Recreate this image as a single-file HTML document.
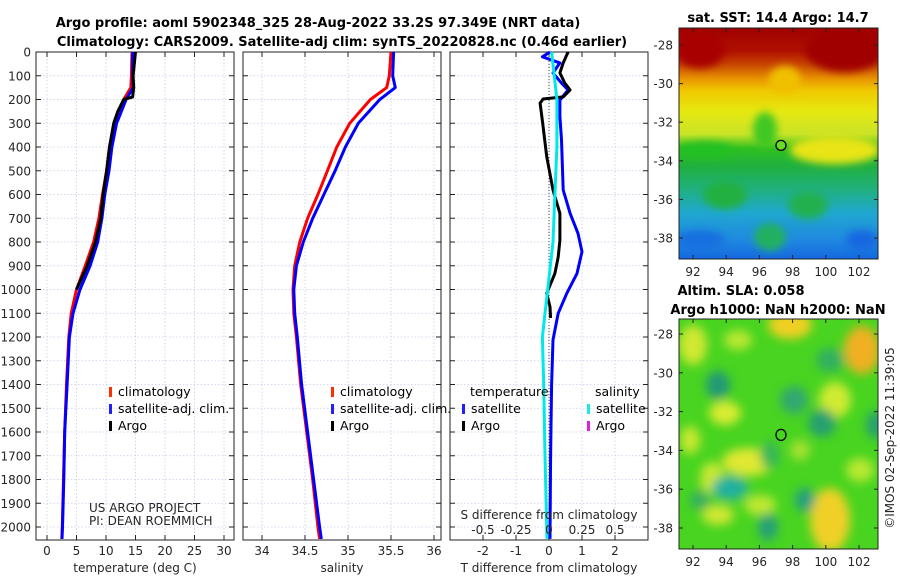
<!DOCTYPE html>
<html><head><meta charset="utf-8">
<style>
html,body{margin:0;padding:0;background:#fff;}
svg{display:block;font-family:"DejaVu Sans","Liberation Sans",sans-serif;}
.tk{font-size:12px;fill:#262626;}
.ttl{font-size:13px;font-weight:bold;fill:#000;}
.lg{font-size:12.5px;fill:#000;}
</style></head>
<body>
<svg id="chart" width="900" height="580" viewBox="0 0 900 580" xmlns="http://www.w3.org/2000/svg">
<defs>
 <linearGradient id="sstGrad" x1="0" y1="0" x2="0" y2="1">
  <stop offset="0" stop-color="#a00000"/>
  <stop offset="0.1" stop-color="#b01000"/>
  <stop offset="0.16" stop-color="#c84800"/>
  <stop offset="0.22" stop-color="#e89400"/>
  <stop offset="0.27" stop-color="#f0c800"/>
  <stop offset="0.36" stop-color="#e6e810"/>
  <stop offset="0.46" stop-color="#c8e428"/>
  <stop offset="0.52" stop-color="#30c020"/>
  <stop offset="0.6" stop-color="#20b040"/>
  <stop offset="0.7" stop-color="#20b080"/>
  <stop offset="0.8" stop-color="#20a8d0"/>
  <stop offset="0.92" stop-color="#2088e0"/>
  <stop offset="1" stop-color="#1468e0"/>
 </linearGradient>
 <filter id="blur6" x="-50%" y="-50%" width="200%" height="200%"><feGaussianBlur stdDeviation="5"/></filter>
 <filter id="blur4" x="-50%" y="-50%" width="200%" height="200%"><feGaussianBlur stdDeviation="4"/></filter>
 <clipPath id="clipMap1"><rect x="679" y="28" width="199" height="231"/></clipPath>
 <clipPath id="clipMap2"><rect x="679" y="319" width="199" height="230"/></clipPath>
</defs>
<g id="root"></g>
</svg>
<script>
// ---- data ----
const depthTicks = [0,100,200,300,400,500,600,700,800,900,1000,1100,1200,1300,1400,1500,1600,1700,1800,1900,2000];
const tempTicks = [0,5,10,15,20,25,30];
const salTicks = [34,34.5,35,35.5,36];
const salTickLabels = ["34","34.5","35","35.5","36"];
const tdiffTicks = [-2,-1,0,1,2];
const sdiffTicks = [-0.5,-0.25,0,0.25,0.5];
const sdiffTickLabels = ["-0.5","-0.25","0","0.25","0.5"];

const climDepth = [0,100,150,200,300,400,500,600,700,800,900,1000,1100,1200,1400,1600,1800,2000,2050];
const climTemp  = [14.4,14.3,14.2,13.0,11.4,10.6,10.1,9.4,8.8,7.9,6.5,5.0,4.1,3.7,3.3,3.0,2.8,2.6,2.5];
const satTemp   = [14.5,14.5,14.6,13.4,11.8,11.0,10.5,9.8,9.3,8.6,7.3,5.6,4.4,3.8,3.4,3.0,2.85,2.62,2.55];
const argoDepth = [0,50,100,150,190,200,250,300,400,500,600,700,800,900,1000];
const argoTemp  = [15.0,14.8,14.6,14.7,14.5,13.0,12.0,11.3,10.6,10.1,9.5,9.1,8.2,6.8,5.0];
const climSal   = [35.50,35.48,35.45,35.26,35.02,34.87,34.76,34.65,34.53,34.44,34.38,34.36,34.37,34.40,34.45,34.52,34.59,34.65,34.67];
const satSal    = [35.53,35.52,35.55,35.37,35.12,34.97,34.85,34.72,34.59,34.48,34.40,34.37,34.38,34.41,34.46,34.53,34.60,34.67,34.69];

const dTDepth   = [0,46,88,131,160,189,198,215,300,440,581,679,792,863,932,1016,1073,1120];
const argoTDiff = [0.58,0.43,0.33,0.48,0.64,0.43,-0.18,-0.27,-0.19,-0.07,0.12,0.33,0.33,0.28,0.18,-0.07,0.03,0.05];
const satDDepth = [0,20,46,88,131,160,202,272,370,581,679,764,841,932,1016,1100,1212,1400,1700,2050];
const satTDiff  = [0.03,-0.2,0.33,0.12,0.38,0.58,0.33,0.33,0.38,0.43,0.64,0.88,1.0,0.85,0.54,0.28,0.12,0.08,0.05,0.03];
const satSDepth = [0,200,400,600,800,1000,1100,1200,1400,1700,2050];
const satSDiff  = [0.02,0.06,0.06,0.045,0.03,-0.01,-0.03,-0.05,-0.04,-0.03,-0.015];

const lonTicks = [92,94,96,98,100,102];
const latTicks = [-28,-30,-32,-34,-36,-38];
const floatLon = 97.3, floatLat = -33.2;

// ---- scales ----
const Y0 = 52, YPX = 0.2375;
const yD = d => Y0 + d*YPX;
const P1 = {x:36,w:198}, P2 = {x:243,w:198}, P3 = {x:450,w:198};
const xT = v => 47 + v*5.9;
const xS = v => 262 + (v-34)*86;
const xTD = v => 549 + v*33;
const xSD = v => 549 + v*132;
const M1 = {x:679,y:28,w:199,h:231}, M2 = {x:679,y:319,w:199,h:230};
const lonX = v => 693 + (v-92)*16.6;
const lat1 = v => 45 + (-28 - v)*19.3;
const lat2 = v => 334 + (-28 - v)*19.4;

const NS = "http://www.w3.org/2000/svg";
const root = document.getElementById('root');
function el(tag, attrs, parent, txt){
  const e = document.createElementNS(NS, tag);
  for (const k in attrs) e.setAttribute(k, attrs[k]);
  if (txt !== undefined) e.textContent = txt;
  (parent||root).appendChild(e);
  return e;
}
function line(xs, ys, color, w, name, parent){
  const pts = xs.map((x,i)=>x.toFixed(1)+","+ys[i].toFixed(1)).join(" ");
  const p = el('polyline',{points:pts,fill:'none',stroke:color,'stroke-width':w,'stroke-linejoin':'round'},parent);
  
  
  return p;
}

// ---- titles ----
let t = el('text',{x:318,y:27,'text-anchor':'middle',class:'ttl'},root,'Argo profile: aoml 5902348_325 28-Aug-2022 33.2S 97.349E (NRT data)');


t = el('text',{x:342,y:46,'text-anchor':'middle',class:'ttl'},root,'Climatology: CARS2009. Satellite-adj clim: synTS_20220828.nc (0.46d earlier)');



// ---- profile panels ----
function panel(P, name, ticks, labels, sx, xlabel){
  const g = el('g',{});
  
  
  const x0=P.x, x1=P.x+P.w, yb=540;
  depthTicks.forEach(d=>{
    el('line',{x1:x0,x2:x1,y1:yD(d),y2:yD(d),stroke:'#c8cce8','stroke-width':0.8,'stroke-dasharray':'1.5,2'},g);
    el('line',{x1:x0,x2:x0+5,y1:yD(d),y2:yD(d),stroke:'#222'},g);
    el('line',{x1:x1-5,x2:x1,y1:yD(d),y2:yD(d),stroke:'#222'},g);
  });
  ticks.forEach((v,i)=>{
    const x = sx(v);
    el('line',{x1:x,x2:x,y1:Y0,y2:yb,stroke:'#c8cce8','stroke-width':0.8,'stroke-dasharray':'1.5,2'},g);
    el('line',{x1:x,x2:x,y1:yb,y2:yb-5,stroke:'#222'},g);
    el('line',{x1:x,x2:x,y1:Y0,y2:Y0+5,stroke:'#222'},g);
    const lt = el('text',{x:x,y:555,'text-anchor':'middle',class:'tk'},g,labels[i]);
    
    
  });
  el('rect',{x:x0,y:Y0,width:P.w,height:yb-Y0,fill:'none',stroke:'#222','stroke-width':1},g);
  const xl = el('text',{x:x0+P.w/2,y:572,'text-anchor':'middle',class:'tk','font-size':'13px'},g,xlabel);
  
  
  return g;
}
const g1 = panel(P1,'temperature-panel',tempTicks,tempTicks.map(String),xT,'temperature (deg C)');
const g2 = panel(P2,'salinity-panel',salTicks,salTickLabels,xS,'salinity');
const g3 = panel(P3,'difference-panel',tdiffTicks,tdiffTicks.map(String),xTD,'T difference from climatology');

depthTicks.forEach(d=>{
  const lt = el('text',{x:31,y:yD(d)+4.5,'text-anchor':'end',class:'tk'},root,String(d));
  
  
});

line(climTemp.map(xT), climDepth.map(yD), '#ff0000', 3, 'temp-climatology-line', g1);
line(satTemp.map(xT), climDepth.map(yD), '#0000ff', 3, 'temp-satellite-line', g1);
line(argoTemp.map(xT), argoDepth.map(yD), '#000000', 3, 'temp-argo-line', g1);
line(climSal.map(xS), climDepth.map(yD), '#ff0000', 3, 'sal-climatology-line', g2);
line(satSal.map(xS), climDepth.map(yD), '#0000ff', 3, 'sal-satellite-line', g2);
el('line',{x1:xTD(0),x2:xTD(0),y1:Y0,y2:540,stroke:'#444','stroke-width':1,'stroke-dasharray':'1,2'},g3);
line(satTDiff.map(xTD), satDDepth.map(yD), '#0000ff', 3, 'tdiff-satellite-line', g3);
line(argoTDiff.map(xTD), dTDepth.map(yD), '#000000', 3, 'tdiff-argo-line', g3);
line(satSDiff.map(xSD), satSDepth.map(yD), '#00e8e8', 3, 'sdiff-satellite-line', g3);
sdiffTicks.forEach((v,i)=>{
  const lt = el('text',{x:xSD(v),y:534,'text-anchor':'middle',class:'tk'},g3,sdiffTickLabels[i]);
  
  
});
t = el('text',{x:549,y:519,'text-anchor':'middle',class:'tk','font-size':'13px'},g3,'S difference from climatology');



function legEntry(x,y,color,label,g,name){
  el('rect',{x:x,y:y-9,width:3,height:10,fill:color},g);
  const tx = el('text',{x:x+9,y:y,class:'lg'},g,label);
  
  
}
legEntry(109,396,'#ff3000','climatology',g1,'legend-climatology');
legEntry(109,413,'#2020ff','satellite-adj. clim.',g1,'legend-satellite-adj');
legEntry(109,430,'#000','Argo',g1,'legend-argo');
legEntry(331,396,'#ff3000','climatology',g2,'legend-climatology');
legEntry(331,413,'#2020ff','satellite-adj. clim.',g2,'legend-satellite-adj');
legEntry(331,430,'#000','Argo',g2,'legend-argo');
t = el('text',{x:470,y:396,class:'lg'},g3,'temperature');  
t = el('text',{x:595,y:396,class:'lg'},g3,'salinity');  
legEntry(462,413,'#2020ff','satellite',g3,'legend-t-satellite');
legEntry(462,430,'#000','Argo',g3,'legend-t-argo');
legEntry(587,413,'#20e8e8','satellite',g3,'legend-s-satellite');
legEntry(587,430,'#e020e0','Argo',g3,'legend-s-argo');
t = el('text',{x:89,y:512,class:'tk','font-size':'10.5px'},g1,'US ARGO PROJECT');  
t = el('text',{x:89,y:525,class:'tk','font-size':'10.5px'},g1,'PI: DEAN ROEMMICH');  

// ---- maps ----
function mapAxes(M, latF, g){
  lonTicks.forEach(v=>{
    const x = lonX(v);
    el('line',{x1:x,x2:x,y1:M.y+M.h,y2:M.y+M.h-4,stroke:'#222'},g);
    el('line',{x1:x,x2:x,y1:M.y,y2:M.y+4,stroke:'#222'},g);
    const lt = el('text',{x:x,y:M.y+M.h+17,'text-anchor':'middle',class:'tk'},g,String(v));
    
    
  });
  latTicks.forEach(v=>{
    const y = latF(v);
    el('line',{x1:M.x,x2:M.x+4,y1:y,y2:y,stroke:'#222'},g);
    el('line',{x1:M.x+M.w-4,x2:M.x+M.w,y1:y,y2:y,stroke:'#222'},g);
    const lt = el('text',{x:M.x-6,y:y+4.5,'text-anchor':'end',class:'tk'},g,String(v));
    
    
  });
  el('rect',{x:M.x,y:M.y,width:M.w,height:M.h,fill:'none',stroke:'#222'},g);
}
const gm1 = el('g',{});


const c1 = el('g',{'clip-path':'url(#clipMap1)'},gm1);
el('rect',{x:M1.x,y:M1.y,width:M1.w,height:M1.h,fill:'url(#sstGrad)'},c1);
const b1 = el('g',{filter:'url(#blur4)'},c1);
el('ellipse',{cx:845,cy:50,rx:40,ry:22,fill:'#a00000'},b1);
el('ellipse',{cx:700,cy:50,rx:25,ry:18,fill:'#a80000'},b1);
el('ellipse',{cx:785,cy:80,rx:16,ry:14,fill:'#f0c000'},b1);
el('ellipse',{cx:835,cy:150,rx:45,ry:14,fill:'#e8e418'},b1);
el('ellipse',{cx:705,cy:150,rx:28,ry:8,fill:'#20c020'},b1);
el('ellipse',{cx:765,cy:130,rx:12,ry:18,fill:'#40c820'},b1);
el('ellipse',{cx:725,cy:195,rx:22,ry:14,fill:'#20b040'},b1);
el('ellipse',{cx:808,cy:205,rx:20,ry:14,fill:'#20b050'},b1);
el('ellipse',{cx:770,cy:237,rx:16,ry:14,fill:'#20b060'},b1);
el('ellipse',{cx:700,cy:240,rx:25,ry:10,fill:'#1870e0'},b1);
el('ellipse',{cx:862,cy:240,rx:16,ry:10,fill:'#1868e0'},b1);
let mk = el('circle',{cx:lonX(floatLon),cy:lat1(floatLat),r:5,fill:'#66dd22',stroke:'#000','stroke-width':1.3},gm1);


mapAxes(M1, lat1, gm1);
t = el('text',{x:778,y:22,'text-anchor':'middle',class:'ttl'},gm1,'sat. SST: 14.4 Argo: 14.7');  

const gm2 = el('g',{});


const c2 = el('g',{'clip-path':'url(#clipMap2)'},gm2);
el('rect',{x:M2.x,y:M2.y,width:M2.w,height:M2.h,fill:'#48d420'},c2);
const b2 = el('g',{filter:'url(#blur6)'},c2);
[[693,345,14,20,'#d0e830'],[790,325,22,14,'#f0d020'],[862,350,18,24,'#f0b020'],[725,413,16,12,'#d8ec30'],
 [748,462,26,14,'#e0e830'],[835,400,16,18,'#d0ea30'],[712,478,12,16,'#c8e830'],[830,520,20,32,'#f0d028'],
 [760,505,16,10,'#c0e830'],[718,515,16,10,'#d0e830'],[738,340,14,10,'#b8e830'],[860,470,14,12,'#b8e830'],
 [690,440,10,14,'#c8e830'],[800,450,10,10,'#a8e030']].forEach(a=>{
  el('ellipse',{cx:a[0],cy:a[1],rx:a[2],ry:a[3],fill:a[4]},b2);
});
[[718,385,12,14,'#209878'],[730,488,18,12,'#20b0a0'],[794,400,14,14,'#30a870'],[822,423,14,14,'#28a070'],
 [805,500,10,12,'#20a080'],[768,527,10,14,'#28a078'],[876,425,10,14,'#28a070'],[830,360,14,12,'#30b060'],
 [700,500,10,10,'#30b060'],[770,455,10,14,'#38b858']].forEach(a=>{
  el('ellipse',{cx:a[0],cy:a[1],rx:a[2],ry:a[3],fill:a[4]},b2);
});
mk = el('ellipse',{cx:lonX(floatLon),cy:lat2(floatLat),rx:5,ry:5.5,fill:'none',stroke:'#000','stroke-width':1.3},gm2);


mapAxes(M2, lat2, gm2);
t = el('text',{x:741,y:295,'text-anchor':'middle',class:'ttl'},gm2,'Altim. SLA: 0.058');  
t = el('text',{x:778,y:314,'text-anchor':'middle',class:'ttl'},gm2,'Argo h1000: NaN h2000: NaN');  
t = el('text',{x:0,y:0,'text-anchor':'middle',class:'tk','font-size':'12.5px',transform:'translate(894,438) rotate(-90)'},root,'©IMOS 02-Sep-2022 11:39:05');


</script>
</body></html>
